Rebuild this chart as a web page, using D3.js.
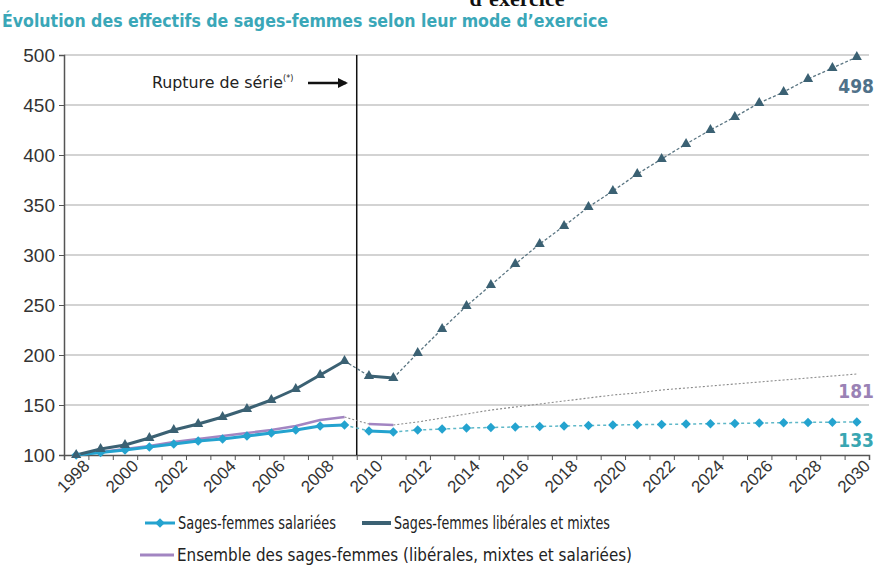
<!doctype html>
<html>
<head>
<meta charset="utf-8">
<style>
  body { margin: 0; background: #fff; }
  svg { display: block; font-family: "DejaVu Sans Condensed", "Liberation Sans", sans-serif; }
  .grid line { stroke: #c4c4c4; stroke-width: 1.5; }
  .axis path, .axis line { stroke: #555; }
  .ylab text { font-family: "Liberation Sans", Arial, sans-serif; font-size: 19px; fill: #333; }
  .xlab text { font-family: "Liberation Sans", Arial, sans-serif; font-size: 17px; fill: #333; }
</style>
</head>
<body>
<svg id="chart" width="876" height="570"></svg>
<script src="https://d3js.org/d3.v7.min.js"></script>
<script>
// years 1998 -> 2030
var years = d3.range(1998, 2031);
var yTicks = [100, 150, 200, 250, 300, 350, 400, 450, 500];
var xLabels = d3.range(1998, 2031, 2);

var salariees = [100, 102.5, 105, 108, 111, 114, 116, 119, 122, 125, 129, 130,
                 124, 123, 125, 126, 127, 127.5, 128, 128.5, 129, 129.5, 130, 130.3,
                 130.6, 131, 131.3, 131.6, 132, 132.3, 132.6, 132.8, 133];
var liberales = [100, 106, 110, 117, 125, 131, 138, 146, 155, 166, 180, 194,
                 179, 177, 202, 226, 249, 270, 291, 311, 329, 348, 364, 381,
                 396, 411, 425, 438, 452, 463, 476, 487, 498];
var ensemble  = [100, 103, 106, 109, 113, 116, 119, 122, 125, 129, 135, 138,
                 131, 130, 133, 137, 141, 145, 148, 151, 154, 157, 160, 162,
                 165, 167, 169, 171, 173, 175, 177, 179, 181];

var svg = d3.select("#chart");

var x = d3.scaleLinear().domain([1997.5, 2030.5]).range([64, 869]);
var y = d3.scaleLinear().domain([100, 500]).range([455, 55]);

// title (upper line is cut by the page edge, as in the source)
svg.append("text")
  .attr("x", 517).attr("y", 6)
  .attr("text-anchor", "middle")
  .attr("font-family", "Liberation Serif, serif")
  .attr("font-weight", "bold")
  .attr("font-size", 22)
  .attr("fill", "#111")
  .text("d’exercice");
svg.append("rect").attr("x", 0).attr("y", 8).attr("width", 876).attr("height", 8).attr("fill", "#fff");
svg.append("text")
  .attr("x", 2).attr("y", 27)
  .attr("font-size", 17)
  .attr("font-weight", "bold")
  .attr("fill", "#3aa7b8")
  .attr("textLength", 606).attr("lengthAdjust", "spacingAndGlyphs")
  .text("Évolution des effectifs de sages-femmes selon leur mode d’exercice");

// grid
svg.append("g").attr("class", "grid")
  .selectAll("line").data(yTicks.slice(1)).enter().append("line")
  .attr("x1", x(1997.5)).attr("x2", x(2030.5))
  .attr("y1", function(d) { return y(d); }).attr("y2", function(d) { return y(d); });

// y axis
var yAxis = d3.axisLeft(y).tickValues(yTicks).tickSize(5).tickPadding(4);
var gy = svg.append("g").attr("class", "axis ylab")
  .attr("transform", "translate(" + x(1997.5) + ",0)")
  .call(yAxis);
gy.select(".domain").attr("stroke", "#444").attr("stroke-width", 1.5);

// x axis ticks on year boundaries
var xAxis = d3.axisBottom(x).tickValues(d3.range(1997.5, 2031, 1)).tickSize(5).tickFormat("");
var gx = svg.append("g").attr("class", "axis")
  .attr("transform", "translate(0," + y(100) + ")")
  .call(xAxis);
gx.select(".domain").attr("stroke", "#444").attr("stroke-width", 1.5);

var xAxisLab = d3.axisBottom(x).tickValues(xLabels).tickSize(0).tickFormat(d3.format("d"));
var gxl = svg.append("g").attr("class", "xlab")
  .attr("transform", "translate(0," + y(100) + ")")
  .call(xAxisLab);
gxl.select(".domain").remove();
gxl.selectAll("text")
  .attr("text-anchor", "end")
  .attr("dy", null).attr("y", 0)
  .attr("transform", "translate(14,12) rotate(-45)");

// rupture line
svg.append("line")
  .attr("x1", x(2009.5)).attr("x2", x(2009.5))
  .attr("y1", y(500)).attr("y2", y(100))
  .attr("stroke", "#111").attr("stroke-width", 1.5);

var rt = svg.append("text").attr("x", 152).attr("y", 88).attr("font-size", 16.5).attr("fill", "#222");
rt.append("tspan").attr("textLength", 131).attr("lengthAdjust", "spacingAndGlyphs").text("Rupture de série");
rt.append("tspan").attr("dy", -7).attr("font-size", 9).text("(*)");
svg.append("defs").append("marker")
  .attr("id", "arr").attr("viewBox", "0 0 10 10").attr("refX", 8).attr("refY", 5)
  .attr("markerWidth", 4).attr("markerHeight", 4).attr("orient", "auto")
  .append("path").attr("d", "M0,0L10,5L0,10Z").attr("fill", "#111");
svg.append("line")
  .attr("x1", 308).attr("x2", 346).attr("y1", 83).attr("y2", 83)
  .attr("stroke", "#111").attr("stroke-width", 2.5).attr("marker-end", "url(#arr)");

var cSal = "#24a3cf", cLib = "#3b6173", cEns = "#a285c2";

var line = d3.line()
  .x(function(d) { return x(d[0]); })
  .y(function(d) { return y(d[1]); });

function seg(vals, from, to) {
  var out = [];
  for (var i = 0; i < years.length; i++) {
    if (years[i] >= from && years[i] <= to) out.push([years[i], vals[i]]);
  }
  return out;
}

function drawSeries(vals, color, w, dashColor, dashW, dash) {
  var solid = [[1998, 2009], [2010, 2011]];
  var dotted = [[2009, 2010], [2011, 2030]];
  dotted.forEach(function(r) {
    svg.append("path").datum(seg(vals, r[0], r[1]))
      .attr("d", line).attr("fill", "none")
      .attr("stroke", dashColor).attr("stroke-width", dashW)
      .attr("stroke-dasharray", dash);
  });
  solid.forEach(function(r) {
    svg.append("path").datum(seg(vals, r[0], r[1]))
      .attr("d", line).attr("fill", "none")
      .attr("stroke", color).attr("stroke-width", w)
      .attr("stroke-linejoin", "round");
  });
}

drawSeries(ensemble, cEns, 2.5, "#8a8a8a", 1.1, "2,2");
drawSeries(salariees, cSal, 3, "#5fb8c8", 1.5, "3,3");
drawSeries(liberales, cLib, 3, "#5a7582", 1.3, "3,2");

// diamonds: rotated squares
var diamond = d3.symbol().type(d3.symbolSquare).size(45);
svg.append("g").selectAll("path").data(salariees).enter().append("path")
  .attr("d", diamond)
  .attr("transform", function(d, i) { return "translate(" + x(years[i]) + "," + y(d) + ") rotate(45)"; })
  .attr("fill", cSal);

var tri = d3.symbol().type(d3.symbolTriangle).size(45);
svg.append("g").selectAll("path").data(liberales).enter().append("path")
  .attr("d", tri)
  .attr("transform", function(d, i) { return "translate(" + x(years[i]) + "," + y(d) + ")"; })
  .attr("fill", cLib);

// end labels
function endLabel(v, yy, col) {
  svg.append("text").attr("x", 874).attr("y", yy)
    .attr("text-anchor", "end").attr("font-size", 19).attr("font-weight", "bold")
    .attr("fill", col).text(v);
}
endLabel(liberales[liberales.length - 1], 93, "#4f7189");
endLabel(ensemble[ensemble.length - 1], 398, "#9a82b5");
endLabel(salariees[salariees.length - 1], 447, "#39a6b2");

// legend
var lg = svg.append("g").attr("font-size", 17).attr("fill", "#222");
lg.append("line").attr("x1", 145).attr("x2", 175).attr("y1", 523).attr("y2", 523).attr("stroke", cSal).attr("stroke-width", 3);
lg.append("path").attr("d", diamond).attr("transform", "translate(160,523) rotate(45)").attr("fill", cSal);
lg.append("text").attr("x", 178).attr("y", 529).attr("textLength", 158).attr("lengthAdjust", "spacingAndGlyphs").text("Sages-femmes salariées");
lg.append("line").attr("x1", 362).attr("x2", 391).attr("y1", 523).attr("y2", 523).attr("stroke", cLib).attr("stroke-width", 4);
lg.append("text").attr("x", 394).attr("y", 529).attr("textLength", 216).attr("lengthAdjust", "spacingAndGlyphs").text("Sages-femmes libérales et mixtes");
lg.append("line").attr("x1", 140).attr("x2", 174).attr("y1", 555).attr("y2", 555).attr("stroke", cEns).attr("stroke-width", 3);
lg.append("text").attr("x", 177).attr("y", 561).attr("textLength", 455).attr("lengthAdjust", "spacingAndGlyphs").text("Ensemble des sages-femmes (libérales, mixtes et salariées)");
</script>
</body>
</html>
